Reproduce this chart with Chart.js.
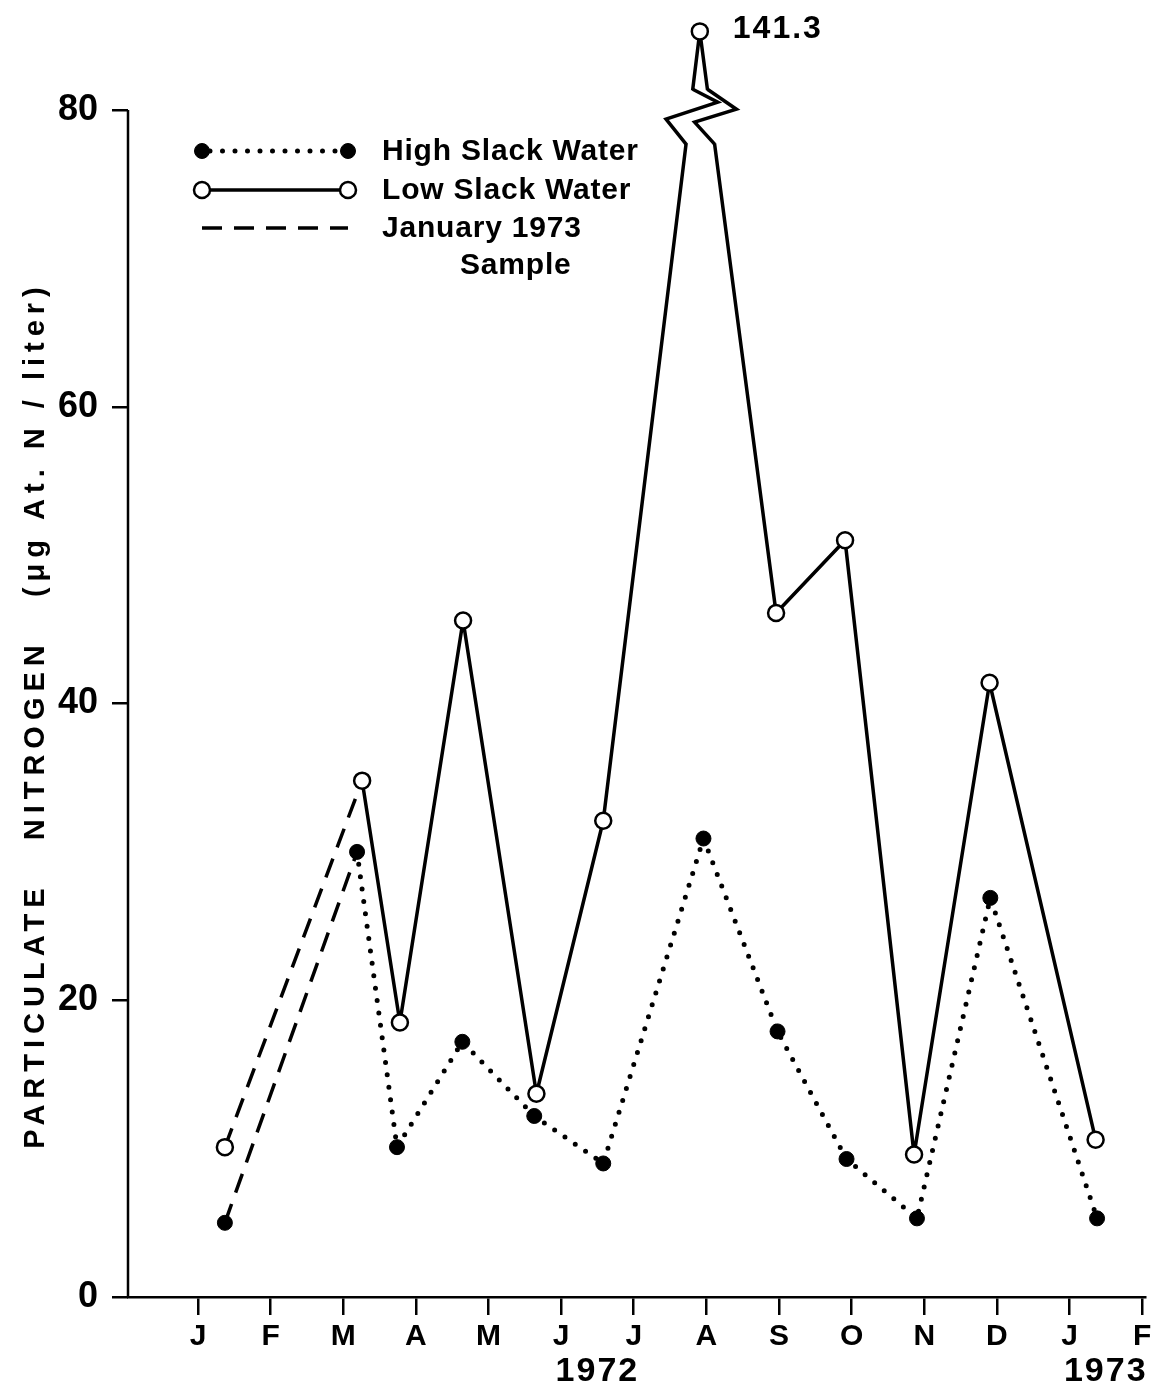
<!DOCTYPE html>
<html>
<head>
<meta charset="utf-8">
<script src="https://cdn.jsdelivr.net/npm/chart.js@4.4.1/dist/chart.umd.min.js"></script>
<style>
  body { margin: 0; background: #fff; }
  #wrap { width: 1163px; height: 1392px; }
</style>
</head>
<body>
<div id="wrap"><canvas id="chart"></canvas></div>
<script>
// month ticks, Jan 1972 = 0 ... Feb 1973 = 13
const MONTHS = ['J', 'F', 'M', 'A', 'M', 'J', 'J', 'A', 'S', 'O', 'N', 'D', 'J', 'F']
const Y_TICKS = [0, 20, 40, 60, 80]

// high slack water (filled points, dotted line)
const HIGH_X = [2.19, 2.74, 3.64, 4.63, 5.58, 6.96, 7.98, 8.93, 9.90, 10.91, 12.38]
const HIGH_Y = [30.0, 10.1, 17.2, 12.2, 9.0, 30.9, 17.9, 9.3, 5.3, 26.9, 5.3]

// low slack water (open points, solid line)
const LOW_X = [2.26, 2.78, 3.65, 4.66, 5.58, 6.91, 7.96, 8.91, 9.86, 10.90, 12.36]
const LOW_Y = [34.8, 18.5, 45.6, 13.7, 32.1, 141.3, 46.1, 51.0, 9.6, 41.4, 10.6]

// January 1973 sample, drawn at the January position
const JAN_X = 0.37
const JAN_HIGH = 5.0
const JAN_LOW = 10.1

const AXIS_TOP = 80      // axis is drawn up to here
const BREAK_SHOW = 85.3  // values past the break get plotted here
const BREAK_LO = 77.7
const BREAK_HI = 81.4

const FONT = "'Liberation Sans', Arial, sans-serif"

const lowPlot = LOW_X.map((x, i) => ({ x: x, y: LOW_Y[i] > AXIS_TOP ? BREAK_SHOW : LOW_Y[i] }))
const highPlot = HIGH_X.map((x, i) => ({ x: x, y: HIGH_Y[i] }))

const LOW_STYLE = { borderColor: '#000', borderWidth: 3.5, borderJoinStyle: 'round', pointRadius: 8, pointBorderWidth: 2.5, pointBackgroundColor: '#fff', pointBorderColor: '#000' }
const HIGH_STYLE = { borderColor: '#000', borderWidth: 5, borderDash: [0, 12.5], borderCapStyle: 'round', pointRadius: 7.5, pointBorderWidth: 1, pointBackgroundColor: '#000', pointBorderColor: '#000' }
const JAN_STYLE = { borderColor: '#000', borderWidth: 3.5, borderDash: [20, 12] }

// y axis line only up to 80, plus axis break, labels, legend
const extras = {
  id: 'extras',
  afterDatasetsDraw(chart) {
    const ctx = chart.ctx
    const xs = chart.scales.x, ys = chart.scales.y
    ctx.save()
    ctx.strokeStyle = '#000'
    ctx.fillStyle = '#000'

    // y axis line
    ctx.lineWidth = 2.5
    ctx.beginPath()
    ctx.moveTo(xs.left, ys.getPixelForValue(0))
    ctx.lineTo(xs.left, ys.getPixelForValue(AXIS_TOP))
    ctx.stroke()

    // break in the low slack line
    const meta = chart.getDatasetMeta(0)
    const i = LOW_Y.findIndex(v => v > AXIS_TOP)
    const peak = meta.data[i], prev = meta.data[i - 1], next = meta.data[i + 1]
    const yLo = ys.getPixelForValue(BREAK_LO), yHi = ys.getPixelForValue(BREAK_HI)
    const along = (a, b, py) => a.x + (b.x - a.x) * (py - a.y) / (b.y - a.y)
    const lb = { x: along(prev, peak, yLo), y: yLo }, lt = { x: along(prev, peak, yHi), y: yHi }
    const rb = { x: along(next, peak, yLo), y: yLo }, rt = { x: along(next, peak, yHi), y: yHi }
    ctx.fillStyle = '#fff'
    ctx.fillRect(lb.x - 5, yHi + 1, rb.x - lb.x + 10, yLo - yHi - 2)
    ctx.fillStyle = '#000'
    ctx.lineWidth = 3.5
    ctx.lineJoin = 'miter'
    ctx.beginPath()
    ctx.moveTo(lb.x, lb.y)
    ctx.lineTo(lb.x - 20, lb.y - 25)
    ctx.lineTo(lt.x + 25, lt.y + 13)
    ctx.lineTo(lt.x, lt.y)
    ctx.stroke()
    ctx.beginPath()
    ctx.moveTo(rb.x, rb.y)
    ctx.lineTo(rb.x - 20, rb.y - 22)
    ctx.lineTo(rt.x + 29, rt.y + 20)
    ctx.lineTo(rt.x, rt.y)
    ctx.stroke()

    // real value of the broken point
    ctx.font = 'bold 32px ' + FONT
    ctx.letterSpacing = '2px'
    ctx.textBaseline = 'middle'
    ctx.textAlign = 'left'
    ctx.fillText(LOW_Y[i].toFixed(1), peak.x + 33, peak.y - 2)

    // years
    ctx.font = 'bold 34px ' + FONT
    ctx.textAlign = 'center'
    ctx.fillText('1972', xs.getPixelForValue(5.5), 1372)
    ctx.fillText('1973', xs.getPixelForValue(12.5), 1372)

    // y title
    ctx.save()
    ctx.translate(36, 715)
    ctx.rotate(-Math.PI / 2)
    ctx.font = 'bold 29px ' + FONT
    ctx.letterSpacing = '6px'
    ctx.textAlign = 'center'
    ctx.fillText('PARTICULATE   NITROGEN   (\u03BCg At. N / liter)', 0, 0)
    ctx.restore()

    // legend
    const x0 = 202, x1 = 348, tx = 382
    const rows = [
      { y: 151, style: HIGH_STYLE, text: 'High Slack Water', pts: true },
      { y: 190, style: LOW_STYLE, text: 'Low Slack Water', pts: true },
      { y: 228, style: JAN_STYLE, text: 'January 1973', pts: false }
    ]
    ctx.font = 'bold 30px ' + FONT
    ctx.letterSpacing = '0.8px'
    ctx.textAlign = 'left'
    rows.forEach(r => {
      const s = r.style
      ctx.save()
      ctx.lineWidth = s.borderWidth
      ctx.setLineDash(s.borderDash || [])
      ctx.lineCap = s.borderCapStyle || 'butt'
      ctx.beginPath()
      ctx.moveTo(r.pts ? x0 + 8 : x0, r.y)
      ctx.lineTo(r.pts ? x1 - 8 : x1, r.y)
      ctx.stroke()
      ctx.restore()
      if (r.pts) {
        [x0, x1].forEach(px => {
          ctx.beginPath()
          ctx.arc(px, r.y, s.pointRadius, 0, Math.PI * 2)
          ctx.fillStyle = s.pointBackgroundColor
          ctx.fill()
          ctx.lineWidth = s.pointBorderWidth
          ctx.stroke()
        })
      }
      ctx.fillStyle = '#000'
      ctx.fillText(r.text, tx, r.y + 1)
    })
    ctx.fillText('Sample', 460, 266)
    ctx.restore()
  }
}

new Chart(document.getElementById('chart'), {
  type: 'line',
  data: {
    datasets: [
      Object.assign({ label: 'Low Slack Water', data: lowPlot, order: 1, clip: false }, LOW_STYLE),
      Object.assign({ label: 'High Slack Water', data: highPlot, order: 2, clip: false }, HIGH_STYLE),
      Object.assign({
        label: 'January 1973 Sample', order: 3, clip: false,
        data: [{ x: JAN_X, y: JAN_LOW }, { x: LOW_X[0], y: LOW_Y[0] }],
        pointRadius: [8, 0], pointBorderWidth: 2.5, pointBackgroundColor: '#fff', pointBorderColor: '#000'
      }, JAN_STYLE),
      Object.assign({
        label: 'January 1973 Sample (high)', order: 3, clip: false,
        data: [{ x: JAN_X, y: JAN_HIGH }, { x: HIGH_X[0], y: HIGH_Y[0] }],
        pointRadius: [7.5, 0], pointBorderWidth: 1, pointBackgroundColor: '#000', pointBorderColor: '#000'
      }, JAN_STYLE)
    ]
  },
  options: {
    responsive: true,
    maintainAspectRatio: false,
    animation: false,
    layout: { padding: { top: 21, right: 18, left: 0, bottom: 0 } },
    plugins: { legend: { display: false }, tooltip: { enabled: false } },
    scales: {
      x: {
        type: 'linear',
        min: -0.964,
        max: 13.04,
        afterFit: s => { s.height = 95; s.paddingLeft = 0; s.paddingRight = 0 },
        afterBuildTicks: s => { s.ticks = MONTHS.map((m, i) => ({ value: i })) },
        ticks: {
          callback: v => MONTHS[v],
          color: '#000',
          font: { family: FONT, size: 30, weight: 'bold' },
          padding: 4,
          maxRotation: 0,
          autoSkip: false
        },
        grid: { drawOnChartArea: false, drawTicks: true, tickLength: 18, color: '#000', lineWidth: 2.5 },
        border: { display: true, color: '#000', width: 2.5 }
      },
      y: {
        type: 'linear',
        min: 0,
        max: 86,
        afterFit: s => { s.width = 128; s.paddingTop = 0; s.paddingBottom = 0 },
        afterBuildTicks: s => { s.ticks = Y_TICKS.map(v => ({ value: v })) },
        ticks: {
          color: '#000',
          font: { family: FONT, size: 36, weight: 'bold' },
          padding: 14
        },
        grid: { drawOnChartArea: false, drawTicks: true, tickLength: 16, color: '#000', lineWidth: 2.5 },
        border: { display: false }
      }
    }
  },
  plugins: [extras]
})
</script>
</body>
</html>
